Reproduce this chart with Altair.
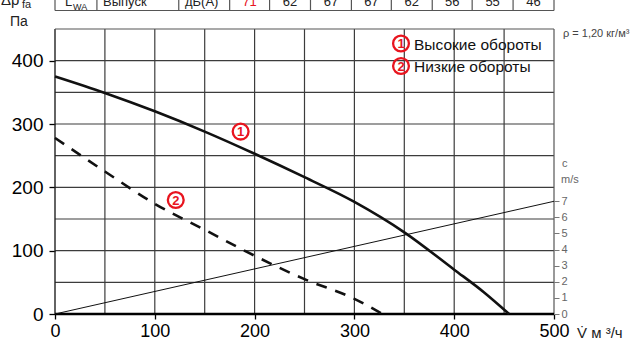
import altair as alt
import pandas as pd

# ---- data ----
q_high = [0, 50, 100, 150, 200, 250, 300, 350, 400, 430, 455]
p_high = [375, 349, 320, 288, 253, 216, 177, 129, 70, 34, 0]
q_low = [0, 50, 100, 150, 200, 250, 300, 328]
p_low = [278, 225, 174, 133, 92, 55, 24, 0]
q_vel = [0, 500]
v_vel = [0, 7.0]

x_ticks = [0, 100, 200, 300, 400, 500]
y_ticks = [0, 100, 200, 300, 400]
v_ticks = [0, 1, 2, 3, 4, 5, 6, 7]
x_grid = [50, 100, 150, 200, 250, 300, 350, 400, 450]
y_grid = [50, 100, 150, 200, 250, 300, 350, 400]

legend_marks = ["1", "2"]
legend_labels = ["Высокие обороты", "Низкие обороты"]

table_bounds = [0, 42, 124, 175, 215, 256, 297, 337, 378, 418, 459, 500]
table_values = ["71", "62", "67", "67", "62", "56", "55", "46"]
table_centers = [(a + b) / 2 for a, b in zip(table_bounds[3:-1], table_bounds[4:])]

W, H = 499, 285
FONT = "Liberation Sans"
GRID = "#3c3c3c"
RED = "#e8141e"

xs = alt.Scale(domain=[0, 500], nice=False, zero=False)
ys = alt.Scale(domain=[0, 450], nice=False, zero=False)
vs = alt.Scale(domain=[0, 17.7], nice=False, zero=False)

xaxis = alt.Axis(values=x_ticks, labelFontSize=18, labelFont=FONT, labelColor="black",
                 tickColor="black", tickSize=5, tickWidth=1.3, domain=False, grid=False,
                 title=None, labelPadding=3, labelFlush=False)
yaxis = alt.Axis(values=y_ticks, labelFontSize=19, labelFont=FONT, labelColor="black",
                 tickColor="black", tickSize=6, tickWidth=1.3, domain=False, grid=False,
                 title=None, labelPadding=6)
vaxis = alt.Axis(values=v_ticks, orient="right", labelFontSize=11, labelFont=FONT,
                 labelColor="#666", tickColor="#777", tickSize=5, tickWidth=1,
                 domain=False, grid=False, title=None, labelPadding=2)

X = alt.X("q:Q", scale=xs, axis=xaxis)
Y = alt.Y("p:Q", scale=ys, axis=yaxis)

high_df = pd.DataFrame({"q": q_high, "p": p_high})
low_df = pd.DataFrame({"q": q_low, "p": p_low})
vel_df = pd.DataFrame({"q": q_vel, "v": v_vel})

vgrid = alt.Chart(pd.DataFrame({"q": x_grid})).mark_rule(color=GRID, strokeWidth=1.2).encode(
    x=X, y=alt.value(0), y2=alt.value(H))
hgrid = alt.Chart(pd.DataFrame({"p": y_grid})).mark_rule(color=GRID, strokeWidth=1.2).encode(
    y=Y, x=alt.value(0), x2=alt.value(W))
left_frame = alt.Chart(pd.DataFrame({"q": [0]})).mark_rule(color="#222", strokeWidth=1.4).encode(
    x=X, y=alt.value(0), y2=alt.value(H))
right_frame = alt.Chart(pd.DataFrame({"q": [500]})).mark_rule(color="#555", strokeWidth=1.2).encode(
    x=X, y=alt.value(0), y2=alt.value(H))
top_frame = alt.Chart(pd.DataFrame({"p": [450]})).mark_rule(color="#555", strokeWidth=1.2).encode(
    y=Y, x=alt.value(0), x2=alt.value(W))
base_line = alt.Chart(pd.DataFrame({"p": [0]})).mark_rule(color="black", strokeWidth=2.6).encode(
    y=Y, x=alt.value(0), x2=alt.value(W))

high = alt.Chart(high_df).mark_line(color="#111", strokeWidth=2.6, interpolate="monotone").encode(
    x=X, y=Y)
low = alt.Chart(low_df).mark_line(color="#111", strokeWidth=2.6, interpolate="monotone",
                                  strokeDash=[11, 9]).encode(x=X, y=Y)


def circled(txt, xenc, yenc):
    ring = alt.Chart(pd.DataFrame({"t": [txt]})).mark_point(
        shape="circle", size=250, filled=False, color=RED, strokeWidth=2.3, opacity=1).encode(
        x=xenc, y=yenc)
    num = alt.Chart(pd.DataFrame({"t": [txt]})).mark_text(
        font=FONT, fontSize=13, fontWeight="bold", color=RED, align="center",
        baseline="middle", dy=0.5).encode(x=xenc, y=yenc, text="t:N")
    return [ring, num]


marks = []
# curve labels (placed in data coordinates)
marks += circled(legend_marks[0], alt.X(datum=186, type="quantitative"),
                 alt.Y(datum=288, type="quantitative"))
marks += circled(legend_marks[1], alt.X(datum=121, type="quantitative"),
                 alt.Y(datum=180, type="quantitative"))

# legend
for i, t in enumerate(legend_labels):
    yb = 20.5 + 22.5 * i
    marks += circled(legend_marks[i], alt.value(346), alt.value(yb - 6))
    marks.append(alt.Chart(pd.DataFrame({"t": [t]})).mark_text(
        font=FONT, fontSize=15.5, color="#111", align="left", baseline="alphabetic").encode(
        x=alt.value(359), y=alt.value(yb), text="t:N"))


def note(txt, x, y, size, color="#444", align="left", font=FONT):
    return alt.Chart(pd.DataFrame({"t": [txt]})).mark_text(
        font=font, fontSize=size, color=color, align=align, baseline="alphabetic").encode(
        x=alt.value(x), y=alt.value(y), text="t:N")


notes = [
    note("ρ = 1,20 кг/м³", 508, 8, 11, "#444"),
    note("c", 507, 138, 11, "#666"),
    note("m/s", 506, 154, 11, "#666"),
    note("V̇ м ³/ч", 522, 309, 15, "#222"),
    note("Па", -45, -3.5, 14, "#222"),
    note("Δp", -54, -24.5, 15, "#222"),
    note("fa", -33, -21, 11, "#222"),
    note("L", 10, -23.5, 13, "#222"),
    note("WA", 18, -19.5, 9, "#222"),
    note("Выпуск", 48, -23.5, 13, "#222"),
    note("дБ(А)", 130, -23.5, 13, "#222"),
]

# top table fragment
tbl_lines = alt.Chart(pd.DataFrame({"q": table_bounds})).mark_rule(color="#555", strokeWidth=1.2).encode(
    x=X, y=alt.value(-29), y2=alt.value(-18.5))
tbl_base = alt.Chart(pd.DataFrame({"q": [0], "q2": [500]})).mark_rule(color="#555", strokeWidth=1.2).encode(
    x=X, x2="q2:Q", y=alt.value(-18.5))
tbl_df = pd.DataFrame({"q": table_centers, "t": table_values,
                       "c": ["r"] + ["k"] * (len(table_values) - 1)})
tbl_text = alt.Chart(tbl_df).mark_text(font=FONT, fontSize=13, baseline="alphabetic").encode(
    x=X, y=alt.value(-23.5), text="t:N",
    color=alt.Color("c:N", scale=alt.Scale(domain=["r", "k"], range=[RED, "#222"]), legend=None))

left = alt.layer(vgrid, hgrid, left_frame, right_frame, top_frame, base_line, high, low,
                 *marks, *notes, tbl_lines, tbl_base, tbl_text)

vel = alt.Chart(vel_df).mark_line(color="#111", strokeWidth=1).encode(
    x=X, y=alt.Y("v:Q", scale=vs, axis=vaxis))

chart = alt.layer(left, vel).resolve_scale(y="independent").properties(
    width=W, height=H,
    padding={"left": 55, "top": 29, "right": 82, "bottom": 29},
    autosize=alt.AutoSizeParams(type="none"),
    background="white",
).configure_view(stroke=None)

chart.save("out.html", embed_options={"renderer": "svg", "actions": False})
